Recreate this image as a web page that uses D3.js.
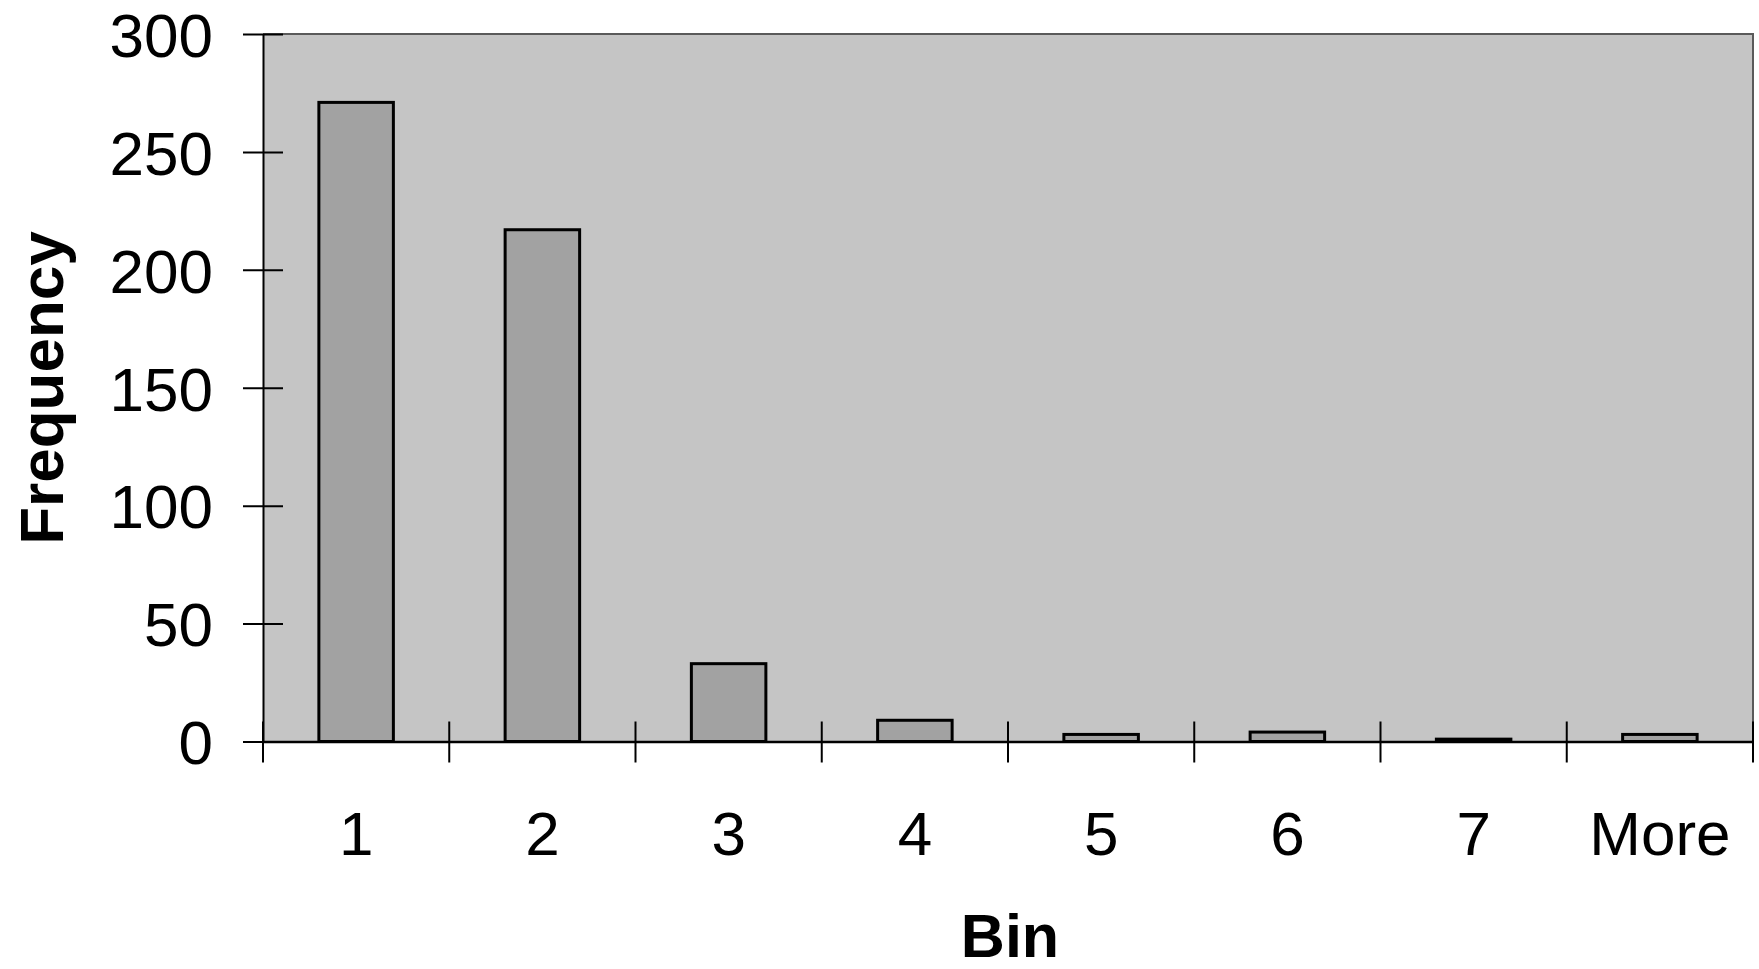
<!DOCTYPE html>
<html>
<head>
<meta charset="utf-8">
<script src="https://cdn.jsdelivr.net/npm/d3@7"></script>
<style>
html,body{margin:0;padding:0;background:#fff;overflow:hidden;}
svg{display:block;}
text{font-family:"Liberation Sans", Arial, sans-serif;fill:#000;}
</style>
</head>
<body>
<script>
const categories = ["1","2","3","4","5","6","7","More"];
const frequency = [271, 217, 33, 9, 3, 4, 1, 3];
const yTicks = [0, 50, 100, 150, 200, 250, 300];
const xTitle = "Bin";
const yTitle = "Frequency";

const W = 1759, H = 969;
const pL = 263, pR = 1753, pT = 34, pB = 741.5;

const svg = d3.select("body").append("svg").attr("width", W).attr("height", H);

const x = d3.scaleBand().domain(categories).range([pL, pR]).paddingInner(0.6).paddingOuter(0.3);
const xb = d3.scaleBand().domain(categories).range([pL, pR]);
const y = d3.scaleLinear().domain([0, 300]).range([pB, pT]);

// plot area
svg.append("rect").attr("x", pL).attr("y", pT).attr("width", pR-pL).attr("height", pB-pT)
  .attr("fill", "#c5c5c5").attr("stroke", "none");
svg.append("path").attr("d", `M${pL},${pT}H${pR}V${pB}`)
  .attr("fill","none").attr("stroke","#5a5a5a").attr("stroke-width",2);

// bars
svg.append("g").selectAll("rect").data(frequency).join("rect")
  .attr("x", (d,i) => x(categories[i]))
  .attr("width", x.bandwidth())
  .attr("y", d => y(d))
  .attr("height", d => y(0) - y(d))
  .attr("fill", "#a2a2a2")
  .attr("stroke", "#000")
  .attr("stroke-width", 3);

// y axis
const yAxis = d3.axisLeft(y).tickValues(yTicks).tickSize(20).tickPadding(34).tickSizeOuter(0);
const gy = svg.append("g").attr("transform", `translate(${pL},0)`).call(yAxis);
gy.select(".domain").attr("stroke","#000").attr("stroke-width",2);
gy.selectAll(".tick line").attr("x2", 20).attr("x1", -20).attr("stroke","#000").attr("stroke-width",2);
gy.selectAll(".tick text").attr("font-size", 62).attr("x", -50).attr("dy", "0.36em")
  .style("font-family", '"Liberation Sans", Arial, sans-serif').attr("fill","#000");

// x axis
const xAxis = d3.axisBottom(xb).tickSize(0).tickSizeOuter(0).tickPadding(0);
const gx = svg.append("g").attr("transform", `translate(0,${pB})`).call(xAxis);
gx.select(".domain").attr("stroke","#000").attr("stroke-width",2.5);
gx.selectAll(".tick text").attr("font-size", 62).attr("y", 113).attr("dy", 0)
  .style("font-family", '"Liberation Sans", Arial, sans-serif').attr("fill","#000");
// tick marks at band boundaries
const bounds = categories.map(c => xb(c)).concat([xb(categories[categories.length-1]) + xb.bandwidth()]);
svg.append("g").selectAll("line").data(bounds).join("line")
  .attr("x1", d => d).attr("x2", d => d)
  .attr("y1", pB - 20).attr("y2", pB + 21)
  .attr("stroke", "#000").attr("stroke-width", 2);

// titles
svg.append("text").attr("x", (pL+pR)/2 + 2).attr("y", 957)
  .attr("text-anchor","middle").attr("font-size", 61).attr("font-weight","bold").text(xTitle);
svg.append("text").attr("transform", `translate(63,${388}) rotate(-90)`)
  .attr("text-anchor","middle").attr("font-size", 62).attr("font-weight","bold").text(yTitle);
</script>
</body>
</html>
